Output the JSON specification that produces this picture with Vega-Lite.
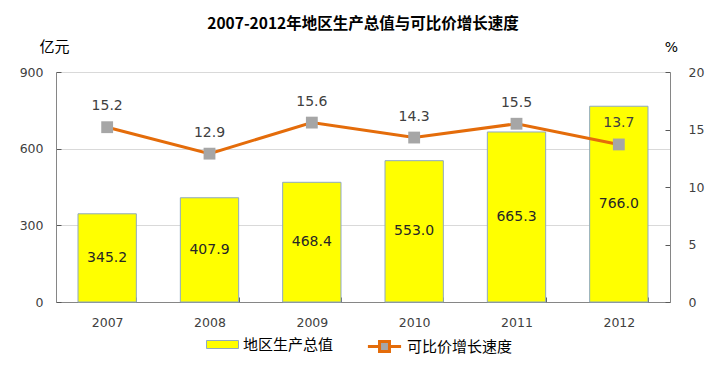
{
  "$schema": "https://vega.github.io/schema/vega-lite/v6.json",
  "width": 614,
  "height": 230,
  "autosize": "none",
  "padding": {"left": 56, "top": 72, "right": 50, "bottom": 76},
  "background": "white",
  "config": {"view": {"stroke": null}},
  "title": {"text": "2007-2012年地区生产总值与可比价增长速度", "font": "Noto Sans CJK SC", "fontSize": 15.5, "fontWeight": "bold", "color": "#000000", "frame": "group", "anchor": "middle", "offset": 7},
  "data": {"values": [
    {"year": "2007", "gdp": 345.2, "growth": 15.2},
    {"year": "2008", "gdp": 407.9, "growth": 12.9},
    {"year": "2009", "gdp": 468.4, "growth": 15.6},
    {"year": "2010", "gdp": 553.0, "growth": 14.3},
    {"year": "2011", "gdp": 665.3, "growth": 15.5},
    {"year": "2012", "gdp": 766.0, "growth": 13.7}
  ]},
  "encoding": {
    "x": {"field": "year", "type": "ordinal", "scale": {"paddingInner": 0.43, "paddingOuter": 0.215},
      "axis": {"title": null, "labelAngle": 0, "tickBand": "extent", "tickSize": -5, "tickColor": "#595959", "domainColor": "#868686", "labelPadding": 19, "labelFont": "DejaVu Sans", "labelFontSize": 12.5, "labelColor": "#404040", "grid": false}}
  },
  "layer": [
    {
      "layer": [
        {"mark": {"type": "bar", "stroke": "#8EA9C1", "strokeWidth": 1},
         "encoding": {
           "y": {"field": "gdp", "type": "quantitative", "scale": {"domain": [0, 900]},
             "axis": {"orient": "left", "values": [0, 300, 600, 900], "grid": true, "gridColor": "#D9D9D9", "domainColor": "#868686", "tickColor": "#595959", "tickSize": -5, "labelPadding": 18, "labelFont": "DejaVu Sans", "labelFontSize": 12.5, "labelColor": "#404040",
               "title": "亿元", "titleAngle": 0, "titleAlign": "center", "titleBaseline": "bottom", "titleX": -2, "titleY": -18, "titleFont": "Noto Sans CJK SC", "titleFontSize": 15, "titleFontWeight": "normal", "titleColor": "#000000"}},
           "fill": {"datum": "地区生产总值", "type": "nominal", "scale": {"range": ["#FFFF00"]},
             "legend": {"title": null, "orient": "none", "legendX": 150, "legendY": 256, "symbolType": "M-1,-0.25H1V0.25H-1Z", "symbolSize": 1024, "symbolStrokeColor": "#8EA9C1", "symbolStrokeWidth": 1, "labelFont": "Noto Sans CJK SC", "labelFontSize": 15, "labelColor": "#000000"}}
         }},
        {"transform": [{"calculate": "datum.gdp / 2", "as": "mid"}],
         "mark": {"type": "text", "font": "DejaVu Sans", "fontSize": 14, "color": "#262626"},
         "encoding": {
           "y": {"field": "mid", "type": "quantitative"},
           "text": {"field": "gdp", "type": "quantitative", "format": ".1f"}
         }}
      ]
    },
    {
      "layer": [
        {"mark": {"type": "line", "strokeWidth": 3},
         "encoding": {
           "y": {"field": "growth", "type": "quantitative", "scale": {"domain": [0, 20]},
             "axis": {"orient": "right", "values": [0, 5, 10, 15, 20], "grid": false, "domainColor": "#868686", "tickColor": "#595959", "tickSize": -5, "labelPadding": 23, "labelFont": "DejaVu Sans", "labelFontSize": 12.5, "labelColor": "#404040",
               "title": "%", "titleAngle": 0, "titleAlign": "center", "titleBaseline": "bottom", "titleX": 1, "titleY": -18, "titleFont": "DejaVu Sans", "titleFontSize": 14, "titleFontWeight": "normal", "titleColor": "#000000"}},
           "stroke": {"datum": "可比价增长速度", "type": "nominal", "scale": {"range": ["#E46C0A"]},
             "legend": {"title": null, "orient": "none", "legendX": 310, "legendY": 256, "symbolType": "M-1,0H-0.3M0.3,0H1M-0.3,-0.3H0.3V0.3H-0.3Z", "symbolSize": 1100, "symbolFillColor": "#A6A6A6", "symbolStrokeWidth": 3, "labelFont": "Noto Sans CJK SC", "labelFontSize": 15, "labelColor": "#000000"}}
         }},
        {"mark": {"type": "point", "shape": "square", "filled": true, "size": 140, "color": "#A6A6A6", "opacity": 1},
         "encoding": {"y": {"field": "growth", "type": "quantitative"}}},
        {"mark": {"type": "text", "dy": -21, "font": "DejaVu Sans", "fontSize": 14, "color": "#404040"},
         "encoding": {
           "y": {"field": "growth", "type": "quantitative"},
           "text": {"field": "growth", "type": "quantitative", "format": ".1f"}
         }}
      ]
    }
  ],
  "resolve": {"scale": {"y": "independent", "fill": "independent", "stroke": "independent"}}
}
